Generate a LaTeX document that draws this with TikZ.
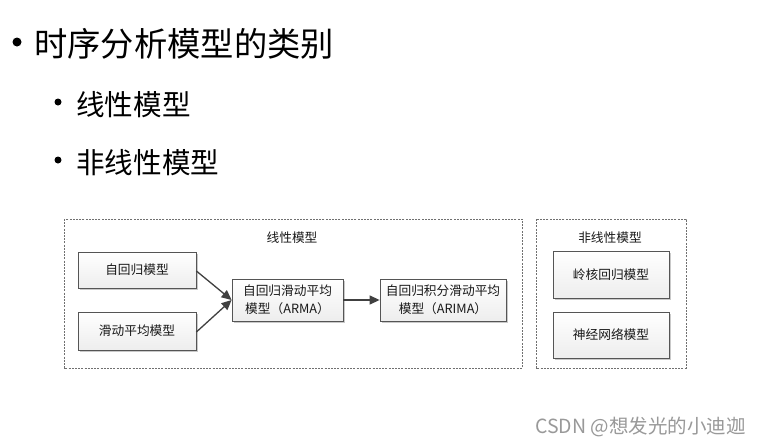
\documentclass[tikz,border=0pt]{standalone}
\usepackage{fontspec}
\setmainfont{Noto Sans CJK SC}
\newfontfamily\cjk{Noto Sans CJK SC}
\usetikzlibrary{arrows.meta,shadows}
\definecolor{boxline}{HTML}{555555}
\definecolor{arrowc}{HTML}{404040}
\definecolor{dashc}{HTML}{707070}
\tikzset{
  model/.style={draw=boxline, line width=0.8pt, top color=white, bottom color=black!7,
    drop shadow={shadow xshift=1.5pt, shadow yshift=-1.5pt, opacity=0.35, fill=black!60},
    inner sep=0pt, font=\cjk\fontsize{12.7}{18}\selectfont, align=center, text=black!90},
  group/.style={draw=dashc, line width=0.7pt, dash pattern=on 2pt off 1.2pt},
  grouplabel/.style={font=\cjk\fontsize{12.7}{15}\selectfont, text=black!90, inner sep=0pt},
  conn/.style={draw=arrowc, line width=1.3pt, -{Triangle[length=10pt,width=9pt]}},
  bullet/.style={circle, fill=black, inner sep=0pt},
  heading/.style={anchor=west, inner sep=0pt, text=black},
}
\begin{document}
\begin{tikzpicture}[x=1pt,y=-1pt]
\useasboundingbox (0,0) rectangle (760,447);
\fill[white] (0,0) rectangle (760,447);

% headings
\node[bullet, minimum size=9pt] (b1) at (17,42) {};
\node[heading, font=\cjk\fontsize{33.3}{36}\selectfont] (t1) at (34,44) {时序分析模型的类别};
\node[bullet, minimum size=7pt] (b2) at (58,102) {};
\node[heading, font=\cjk\fontsize{28.6}{32}\selectfont] (t2) at (76,105) {线性模型};
\node[bullet, minimum size=7pt] (b3) at (58,160) {};
\node[heading, font=\cjk\fontsize{28.6}{32}\selectfont] (t3) at (76,163) {非线性模型};

% groups
\draw[group] (64,219) rectangle (522,368);
\node[grouplabel] (g1) at (292,238) {线性模型};
\draw[group] (536,219) rectangle (686,368);
\node[grouplabel] (g2) at (610,238) {非线性模型};

% linear boxes
\node[model, minimum width=118pt, minimum height=36pt] (ar) at (137,270) {自回归模型};
\node[model, minimum width=118pt, minimum height=38pt] (ma) at (137,331) {滑动平均模型};
\node[model, minimum width=111pt, minimum height=42pt] (arma) at (287.5,300) {自回归滑动平均\\模型（ARMA）};
\node[model, minimum width=126pt, minimum height=42pt] (arima) at (443,300) {自回归积分滑动平均\\模型（ARIMA）};

% nonlinear boxes
\node[model, minimum width=116pt, minimum height=47pt] (krr) at (611,274.5) {岭核回归模型};
\node[model, minimum width=116pt, minimum height=46pt] (nn) at (611,335) {神经网络模型};

% connectors
\draw[conn] (ar.east |- 0,271) -- (arma.west);
\draw[conn] (ma.east |- 0,332) -- (arma.west);
\draw[conn] (arma.east) -- (arima.west);

% watermark
\node[anchor=west, inner sep=0pt, font=\cjk\fontsize{19.5}{22}\selectfont, text=black!40] (wm) at (535,427) {CSDN @想发光的小迪迦};
\end{tikzpicture}
\end{document}
